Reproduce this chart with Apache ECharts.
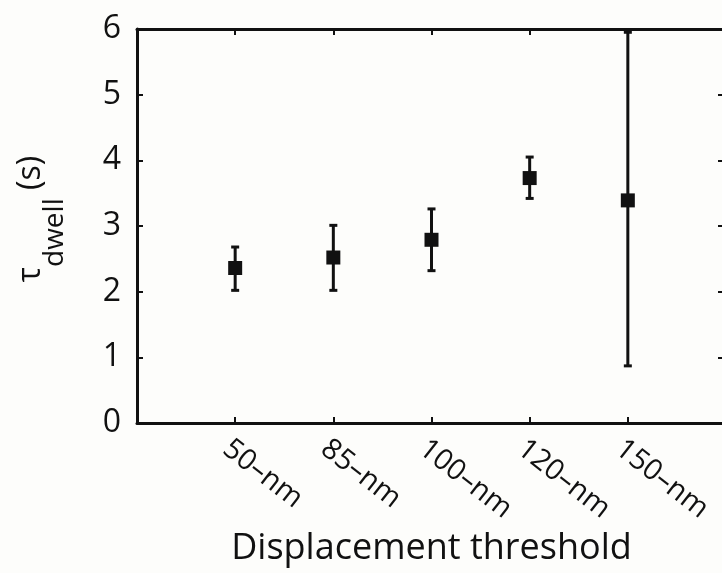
<!DOCTYPE html>
<html>
<head>
<meta charset="utf-8">
<script src="https://cdn.jsdelivr.net/npm/echarts@6/dist/echarts.min.js"></script>
<style>
  html, body { margin: 0; padding: 0; background: #fdfdfb; }
  #chart { width: 722px; height: 573px; }
</style>
</head>
<body>
<div id="chart"></div>
<script>
// thresholds on the x axis
const categories = ['50–nm', '85–nm', '100–nm', '120–nm', '150–nm'];
// dwell time (s)
const means = [2.36, 2.52, 2.79, 3.73, 3.39];
const lower = [2.02, 2.02, 2.32, 3.42, 0.87];
const upper = [2.68, 3.01, 3.26, 4.05, 5.95];
const yTicks = [0, 1, 2, 3, 4, 5, 6];

const font = 'Open Sans';
const ink = '#111';

let points = [], bars = [];
for (let i = 0; i < categories.length; i++) {
  points.push([i + 1, means[i]]);
  bars.push([i + 1, lower[i], upper[i]]);
}

function renderBar(params, api) {
  const x = api.value(0);
  const lo = api.coord([x, api.value(1)]);
  const hi = api.coord([x, api.value(2)]);
  const cap = 4;
  const style = { stroke: ink, lineWidth: 3 };
  return {
    type: 'group',
    children: [
      { type: 'line', shape: { x1: lo[0], y1: lo[1], x2: hi[0], y2: hi[1] }, style: style },
      { type: 'line', shape: { x1: lo[0] - cap, y1: lo[1], x2: lo[0] + cap, y2: lo[1] }, style: style },
      { type: 'line', shape: { x1: hi[0] - cap, y1: hi[1], x2: hi[0] + cap, y2: hi[1] }, style: style }
    ]
  };
}

const lineStyle = { color: ink, width: 3 };
const tickStyle = { color: ink, width: 2 };

let option = {
  backgroundColor: '#fdfdfb',
  animation: false,
  // the frame runs a few pixels past the right edge of the picture
  grid: { left: 137, top: 29, width: 589, height: 394, outerBoundsMode: 'none', containLabel: false },
  xAxis: [
    {
      type: 'value',
      min: 0,
      max: 6,
      interval: 1,
      splitLine: { show: false },
      axisLine: { onZero: false, lineStyle: lineStyle },
      axisTick: { inside: true, length: 6, lineStyle: tickStyle },
      axisLabel: {
        rotate: -38,
        margin: 11,
        align: 'left',
        verticalAlign: 'top',
        fontFamily: font,
        fontSize: 29,
        color: ink,
        formatter: v => categories[v - 1] || ''
      },
      name: 'Displacement threshold',
      nameLocation: 'middle',
      nameGap: 108,
      nameTextStyle: { fontFamily: font, fontSize: 36, color: ink }
    },
    {
      type: 'value',
      position: 'top',
      min: 0,
      max: 6,
      interval: 1,
      splitLine: { show: false },
      axisLine: { onZero: false, lineStyle: lineStyle },
      axisTick: { inside: true, length: 6, lineStyle: tickStyle },
      axisLabel: { show: false }
    }
  ],
  yAxis: [
    {
      type: 'value',
      min: yTicks[0],
      max: yTicks[yTicks.length - 1],
      interval: 1,
      splitLine: { show: false },
      axisLine: { onZero: false, lineStyle: lineStyle },
      axisTick: { inside: true, length: 6, lineStyle: tickStyle },
      axisLabel: { margin: 16, fontFamily: font, fontSize: 32, color: ink },
      name: '{t|τ}{s|dwell}{t| (s)}',
      nameLocation: 'middle',
      nameRotate: 90,
      nameGap: 68,
      nameTextStyle: {
        padding: [0, 0, 0, 14],
        rich: {
          t: { fontFamily: font, fontSize: 32, color: ink, verticalAlign: 'top', lineHeight: 38 },
          s: { fontFamily: font, fontSize: 28, color: ink, verticalAlign: 'top', padding: [26, 0, 0, 0] }
        }
      }
    },
    {
      type: 'value',
      position: 'right',
      min: yTicks[0],
      max: yTicks[yTicks.length - 1],
      interval: 1,
      splitLine: { show: false },
      axisLine: { onZero: false, lineStyle: lineStyle },
      axisTick: { inside: true, length: 8, lineStyle: tickStyle },
      axisLabel: { show: false }
    }
  ],
  series: [
    {
      type: 'custom',
      renderItem: renderBar,
      encode: { x: 0, y: [1, 2] },
      data: bars,
      z: 2
    },
    {
      type: 'scatter',
      symbol: 'rect',
      symbolSize: 14,
      itemStyle: { color: ink, opacity: 1 },
      data: points,
      z: 3
    }
  ]
};

let myChart = echarts.init(document.getElementById('chart'));
myChart.setOption(option);
</script>
</body>
</html>
